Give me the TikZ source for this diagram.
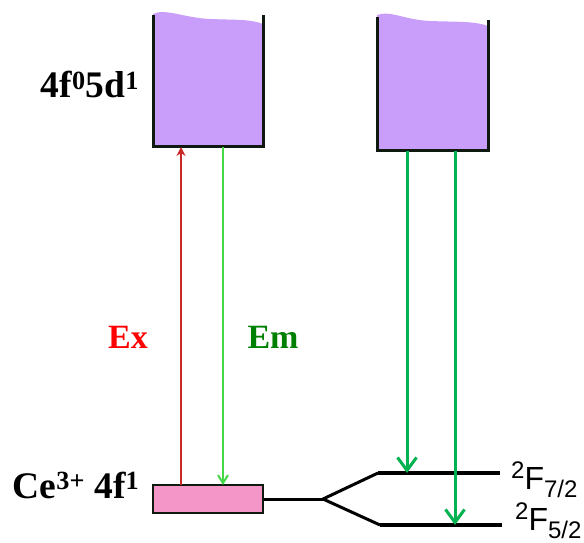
\documentclass[tikz,border=0pt]{standalone}
\usepackage{fontspec}
\setmainfont{Liberation Serif}
\newfontfamily\arialf{Liberation Sans}
\usetikzlibrary{arrows.meta}
\definecolor{bandfill}{RGB}{200,158,250}
\definecolor{pinkfill}{RGB}{245,150,200}
\definecolor{exred}{RGB}{200,40,40}
\definecolor{emgreenL}{RGB}{70,215,70}
\definecolor{emgreenR}{RGB}{0,178,80}
\definecolor{emtext}{RGB}{0,128,0}
\definecolor{wallc}{RGB}{15,25,15}
\tikzset{
  wall/.style={line width=3bp, draw=wallc, line join=miter},
  level/.style={line width=4bp, draw=black},
  exarrow/.style={draw=exred, line width=1.8bp, -{Stealth[length=9bp,width=9bp]}},
  emarrowL/.style={draw=emgreenL, line width=2bp, -{Straight Barb[length=8bp,width=10bp,line width=2bp]}},
  emarrowR/.style={draw=emgreenR, line width=3bp, -{Straight Barb[length=13bp,width=19bp,line width=3bp]}},
  biglabel/.style={font=\fontsize{34bp}{40bp}\selectfont\bfseries, inner sep=0pt},
  statelabel/.style={font=\fontsize{37.5bp}{44bp}\selectfont\bfseries, inner sep=0pt},
  termlabel/.style={font=\arialf\fontsize{32bp}{38bp}\selectfont, inner sep=0pt, anchor=base west},
}
\newcommand{\termtxt}[2]{\raisebox{11bp}{\fontsize{24bp}{28bp}\selectfont 2}F\raisebox{-8bp}{\fontsize{24bp}{28bp}\selectfont #1/#2}}
\begin{document}
\begin{tikzpicture}[x=1bp,y=-1bp]
\useasboundingbox[fill=white] (0,0) rectangle (584,543);
% left band (4f0 5d1)
\fill[bandfill] (153,146) -- (153,14) .. controls (165,8) and (185,18) .. (210,19)
   .. controls (235,20) and (250,19) .. (263,24) -- (263,146) -- cycle;
\draw[wall] (153,15) -- (153,147) -- (263,147) -- (263,15);
\coordinate (lbA) at (181,147);
\coordinate (lbB) at (223,147);
% right band
\fill[bandfill] (377,150) -- (377,15) .. controls (390,10) and (405,20) .. (430,21)
   .. controls (455,22) and (475,21) .. (488,26) -- (488,150) -- cycle;
\draw[wall] (377,17) -- (377,151) -- (488,151) -- (488,20);
\coordinate (rbA) at (407,151);
\coordinate (rbB) at (455,151);
% ground state box
\node[draw=wallc, line width=2.5bp, fill=pinkfill, minimum width=110bp, minimum height=28bp, inner sep=0pt] (gs) at (208,499) {};
\coordinate (gsA) at (181,485);
\coordinate (gsB) at (223,485);
% splitting
\coordinate (br) at (323,499);
\coordinate (u1) at (378,473);
\coordinate (u2) at (500,473);
\coordinate (d1) at (380,525);
\coordinate (d2) at (502,525);
\draw[line width=3bp] (gs.east) -- (br);
\draw[line width=3bp, line join=round] (u1) -- (br) -- (d1);
\draw[level] (u1) -- (u2);
\draw[level] (d1) -- (d2);
\coordinate (uA) at (407,473);
\coordinate (dB) at (455,525);
% arrows
\draw[exarrow] (gsA) -- (lbA);
\draw[emarrowL] (lbB) -- (gsB);
\draw[emarrowR] (rbA) -- (uA);
\draw[emarrowR] (rbB) -- (dB);
% labels
\node[statelabel, anchor=base] (lab5d) at (90,98) {4f\textsuperscript{0}5d\textsuperscript{1}};
\node[statelabel, anchor=base] (labgs) at (76,498) {Ce\textsuperscript{3+} 4f\textsuperscript{1}};
\node[biglabel, anchor=base, text=red] (labex) at (128,348) {Ex};
\node[biglabel, anchor=base, text=emtext] (labem) at (273,348) {Em};
\node[termlabel] (t72) at (511,489) {\termtxt{7}{2}};
\node[termlabel] (t52) at (515,530) {\termtxt{5}{2}};
\end{tikzpicture}
\end{document}
